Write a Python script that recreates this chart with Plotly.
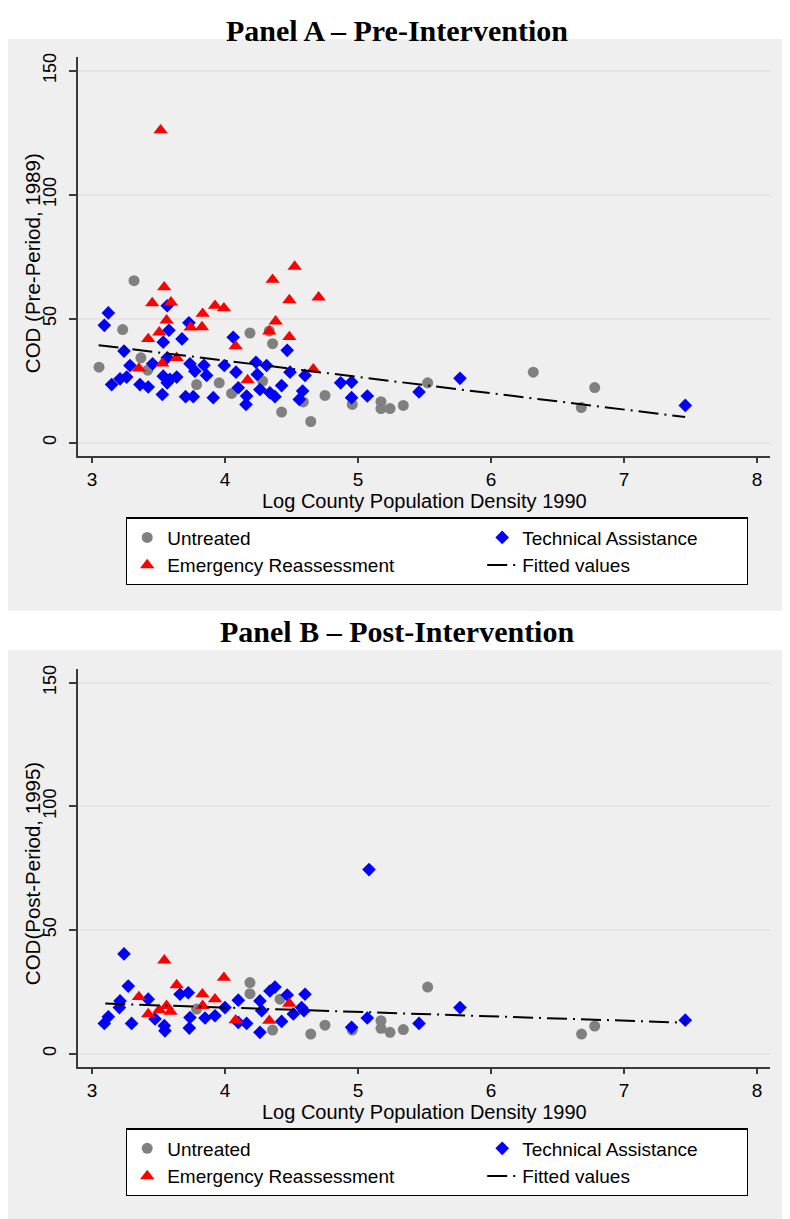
import plotly.graph_objects as go

# ---------------- Panel A (pre-period, 1989) ----------------
a_untreated_x = [3.316, 3.231, 4.188, 4.333, 4.358, 3.368, 3.053, 3.419, 3.787, 3.957, 4.05, 4.283,
                 4.426, 4.645, 4.589, 4.752, 4.957, 5.173, 5.173, 5.241, 5.341, 5.524, 6.318, 6.78, 6.679]
a_untreated_y = [65.3, 45.6, 44.2, 45.0, 39.9, 34.2, 30.4, 29.2, 23.4, 24.1, 19.8, 24.8,
                 12.3, 8.5, 16.4, 19.0, 15.4, 16.5, 13.7, 13.7, 15.0, 24.1, 28.4, 22.2, 14.1]

a_ta_x = [3.566, 3.123, 3.093, 3.729, 3.579, 3.536, 3.677, 4.468, 4.062, 3.241, 3.286, 3.456, 3.566,
          3.737, 3.842, 3.774, 3.862, 3.995, 4.083, 4.233, 4.313, 4.243, 4.489, 4.602, 3.148, 3.211,
          3.261, 3.361, 3.423, 3.536, 3.586, 3.637, 3.566, 3.529, 3.704, 3.762, 3.912, 4.1, 4.163,
          4.158, 4.263, 4.338, 4.426, 4.376, 4.584, 4.559, 4.87, 4.952, 4.952, 5.07, 5.459, 5.767, 7.461]
a_ta_y = [55.2, 52.3, 47.3, 48.3, 45.3, 40.5, 41.8, 37.2, 42.5, 36.9, 31.1, 31.8, 34.2,
          31.8, 31.2, 28.8, 27.1, 31.1, 28.4, 32.4, 31.1, 27.5, 28.4, 27.1, 23.4, 25.7,
          26.4, 23.4, 22.4, 26.8, 25.5, 26.4, 24.1, 19.4, 18.5, 18.5, 18.1, 22.1, 18.8,
          15.4, 21.4, 20.1, 23.0, 18.5, 20.8, 17.4, 24.1, 24.4, 18.1, 18.8, 20.4, 25.9, 15.0]

a_er_x = [3.516, 3.543, 4.358, 4.524, 4.704, 4.484, 3.453, 3.594, 3.925, 3.992, 3.561, 3.832, 3.827,
          3.742, 3.506, 3.423, 4.381, 4.333, 4.484, 4.08, 3.353, 3.529, 3.637, 4.17, 4.664]
a_er_y = [126.0, 62.7, 65.7, 71.0, 58.6, 57.5, 56.3, 56.6, 55.2, 54.2, 49.3, 52.0, 46.6,
          46.5, 44.5, 41.8, 48.9, 44.9, 42.6, 38.9, 29.9, 31.9, 34.2, 25.2, 29.6]

a_fit_x = [3.05, 7.46]
a_fit_y = [39.3, 10.3]

# ---------------- Panel B (post-period, 1995) ----------------
b_untreated_x = [3.787, 4.188, 4.188, 4.358, 4.414, 4.645, 4.752, 4.957, 5.173, 5.173, 5.241, 5.341,
                 5.524, 6.681, 6.78]
b_untreated_y = [18.0, 28.7, 24.2, 9.5, 22.0, 7.9, 11.5, 9.5, 13.3, 10.2, 8.6, 9.7,
                 26.9, 7.9, 11.1]

b_ta_x = [3.241, 3.273, 3.211, 3.423, 3.724, 3.662, 3.123, 3.093, 3.298, 3.474, 3.544, 3.549, 3.732,
          3.737, 3.85, 3.925, 4.0, 4.1, 4.1, 4.163, 4.263, 4.376, 4.338, 4.276, 4.263, 4.426, 4.468,
          4.514, 4.576, 4.602, 4.594, 3.206, 4.952, 5.07, 5.459, 5.767, 7.461, 5.083]
b_ta_y = [40.3, 27.3, 21.3, 22.0, 24.6, 24.0, 14.9, 12.2, 12.2, 14.0, 11.3, 9.2, 10.3,
          14.6, 14.4, 15.3, 18.6, 21.6, 12.6, 12.2, 21.3, 26.9, 25.3, 17.3, 8.6, 13.0, 23.7,
          16.0, 18.6, 24.0, 17.3, 18.6, 10.6, 14.4, 12.2, 18.6, 13.5, 74.4]

b_er_x = [3.544, 3.992, 3.637, 3.353, 3.83, 3.925, 3.832, 3.561, 3.506, 3.591, 3.423, 4.08, 4.333, 4.484]
b_er_y = [37.7, 30.7, 27.7, 22.9, 24.0, 22.0, 19.3, 19.3, 17.6, 17.0, 16.0, 13.5, 13.3, 20.2]

b_fit_x = [3.1, 7.46]
b_fit_y = [20.2, 12.5]

# ---------------- labels ----------------
series_names = ["Untreated", "Technical Assistance", "Emergency Reassessment", "Fitted values"]
panel_titles = ["Panel A \u2013 Pre-Intervention", "Panel B \u2013 Post-Intervention"]
y_titles = ["COD (Pre-Period, 1989)", "COD(Post-Period, 1995)"]
x_title = "Log County Population Density 1990"
x_ticks = [3, 4, 5, 6, 7, 8]
y_ticks = [0, 50, 100, 150]

# The page body has an 8px margin, so the figure is 8px smaller and all
# target screen positions are shifted by 8px.
OFF = 8
W, H = 790 - OFF, 1219 - OFF
FONT = "Liberation Sans, Arial, sans-serif"
SERIF = "Liberation Serif, Times New Roman, serif"
GREY_BG = "#efefef"

def fx(p):  # screen x pixel -> paper
    return (p - OFF) / W

def fy(p):  # screen y pixel (from top) -> paper
    return 1 - (p - OFF) / H

fig = go.Figure()

panels = [
    dict(ux=a_untreated_x, uy=a_untreated_y, tx=a_ta_x, ty=a_ta_y, ex=a_er_x, ey=a_er_y,
         lx=a_fit_x, ly=a_fit_y, xa="x", ya="y", legend="legend"),
    dict(ux=b_untreated_x, uy=b_untreated_y, tx=b_ta_x, ty=b_ta_y, ex=b_er_x, ey=b_er_y,
         lx=b_fit_x, ly=b_fit_y, xa="x2", ya="y2", legend="legend2"),
]

col1_w, col2_w = 310, 219
for p in panels:
    fig.add_trace(go.Scatter(x=p["ux"], y=p["uy"], mode="markers", name=series_names[0],
                             marker=dict(symbol="circle", size=11, color="#808080", line=dict(width=0)),
                             xaxis=p["xa"], yaxis=p["ya"], legend=p["legend"], legendwidth=col1_w))
    fig.add_trace(go.Scatter(x=p["tx"], y=p["ty"], mode="markers", name=series_names[1],
                             marker=dict(symbol="diamond", size=10.5, color="#0000ff", line=dict(width=0)),
                             xaxis=p["xa"], yaxis=p["ya"], legend=p["legend"], legendwidth=col2_w))
    fig.add_trace(go.Scatter(x=p["ex"], y=p["ey"], mode="markers", name=series_names[2],
                             marker=dict(symbol="triangle-up", size=12.5, color="#ff0000", line=dict(width=0)),
                             xaxis=p["xa"], yaxis=p["ya"], legend=p["legend"], legendwidth=col1_w))
    fig.add_trace(go.Scatter(x=p["lx"], y=p["ly"], mode="lines", name=series_names[3],
                             line=dict(color="black", width=2, dash="20px,6px,2px,6px"),
                             xaxis=p["xa"], yaxis=p["ya"], legend=p["legend"], legendwidth=col2_w))

xdom = [fx(78), fx(770)]
axis_common = dict(showline=True, linecolor="#3a3a3a", linewidth=1.5, ticks="outside",
                   tickcolor="#3a3a3a", tickwidth=1.5, zeroline=False)
xaxis_style = dict(range=[2.895, 8.098], tickvals=x_ticks, showgrid=False, ticklen=6,
                   tickfont=dict(family=FONT, size=19, color="black"), **axis_common)
yaxis_style = dict(range=[-5.23, 155.6], tickvals=y_ticks, showgrid=True, gridcolor="#e4e4e4",
                   gridwidth=1.5, tickangle=-90, ticklen=7, ticklabelstandoff=6,
                   tickfont=dict(family=FONT, size=18, color="black"), **axis_common)
fig.update_layout(
    xaxis=dict(domain=xdom, anchor="y", **xaxis_style),
    yaxis=dict(domain=[fy(453), fy(53)], anchor="x", **yaxis_style),
    xaxis2=dict(domain=xdom, anchor="y2", **xaxis_style),
    yaxis2=dict(domain=[fy(1066), fy(667)], anchor="x2", **yaxis_style),
)

legend_common = dict(orientation="h", xanchor="left", yanchor="top", bgcolor="white",
                     bordercolor="black", borderwidth=1.2, entrywidthmode="pixels",
                     font=dict(family=FONT, size=19, color="black"), traceorder="normal",
                     tracegroupgap=0)
fig.update_layout(
    legend=dict(x=fx(126), y=fy(515), **legend_common),
    legend2=dict(x=fx(126), y=fy(1128), **legend_common),
)

shapes = []
annotations = []
for i, off in enumerate([0, 613]):
    shapes.append(dict(type="rect", xref="paper", yref="paper", x0=0, x1=1,
                       y0=max(0, fy(609 + off)), y1=fy(35 + off),
                       fillcolor=GREY_BG, line=dict(width=0), layer="below"))
    if i == 0:
        title_pos = dict(y=1.0, yanchor="top")
    else:
        title_pos = dict(y=fy(630), yanchor="middle")
    annotations.append(dict(text="<b>%s</b>" % panel_titles[i], x=fx(396.5), xref="paper",
                            yref="paper", showarrow=False, xanchor="center",
                            font=dict(family=SERIF, size=30, color="black"), **title_pos))
    annotations.append(dict(text=x_title, x=fx(424), y=fy(499 + off), xref="paper", yref="paper",
                            showarrow=False, xanchor="center", yanchor="middle",
                            font=dict(family=FONT, size=20, color="black")))
    annotations.append(dict(text=y_titles[i], x=fx(32), y=fy(260 + off), xref="paper", yref="paper",
                            showarrow=False, xanchor="center", yanchor="middle", textangle=-90,
                            font=dict(family=FONT, size=20.5, color="black")))

fig.update_layout(
    width=W, height=H, margin=dict(l=0, r=0, t=0, b=0),
    paper_bgcolor="white", plot_bgcolor="white",
    shapes=shapes, annotations=annotations, showlegend=True,
)

fig.write_html("out.html")
